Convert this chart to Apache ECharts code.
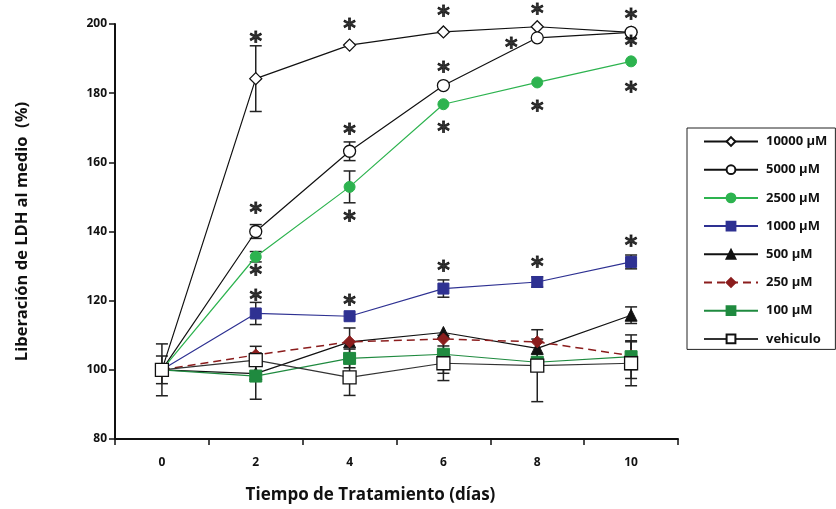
<!DOCTYPE html>
<html><head><meta charset="utf-8">
<script src="https://cdn.jsdelivr.net/npm/echarts@6/dist/echarts.min.js"></script>
<style>html,body{margin:0;padding:0;background:#fff}#c{width:836px;height:509px}</style>
</head><body><div id="c"></div>
<script>
var days = ['0','2','4','6','8','10'];
var yTicks = [80, 100, 120, 140, 160, 180, 200];
var names = ['10000 μM','5000 μM','2500 μM','1000 μM','500 μM','250 μM','100 μM','vehiculo'];
var v10000 = [100, 184.2, 193.9, 197.7, 199.2, 197.6];
var v5000  = [100, 140.0, 163.2, 182.2, 196.0, 197.6];
var v2500  = [100, 132.7, 152.9, 176.8, 183.1, 189.2];
var v1000  = [100, 116.3, 115.5, 123.5, 125.4, 131.2];
var v500   = [100, 98.9, 108.1, 110.8, 106.2, 115.8];
var v250   = [100, 104.3, 108.1, 108.9, 108.1, 104.1];
var v100   = [100, 98.2, 103.3, 104.5, 102.2, 103.8];
var vVeh   = [100, 102.8, 97.8, 101.9, 101.2, 101.9];
var e10000 = [0, 9.5, 0, 0, 0, 0];
var e5000  = [0, 2, 2.7, 0, 0, 0];
var e2500  = [0, 1.5, 4.6, 0, 0, 0];
var e1000  = [0, 3.2, 0, 2.5, 1.5, 2];
var e500   = [0, 0, 4, 0, 2.7, 2.4];
var e250   = [0, 0, 0, 0, 0, 4];
var e100   = [4, 6.7, 2.7, 5.5, 0, 6.3];
var eVeh   = [7.5, 4, 5.2, 5, 10.4, 6.5];
// significance asterisks: [day index, value]
var stars = [
  [1,196],[1,146.5],[1,128.6],[1,121.4],
  [2,199.7],[2,169.5],[2,144.2],[2,120],
  [3,203.5],[3,187.3],[3,170.1],[3,129.8],
  [4,204],[4,176.1],[4,130.9],
  [5,202.6],[5,194.8],[5,181.6],[5,137]
];
var starsShifted = [[4,194.2]];

var values = [v10000,v5000,v2500,v1000,v500,v250,v100,vVeh];
var errs = [e10000,e5000,e2500,e1000,e500,e250,e100,eVeh];
var styles = [
  {color:'#111', symbol:'diamond', size:12, fill:'#fff', type:'solid'},
  {color:'#111', symbol:'circle', size:12, fill:'#fff', type:'solid'},
  {color:'#2db34f', symbol:'circle', size:11, fill:'#2db34f', type:'solid'},
  {color:'#2e3192', symbol:'rect', size:11, fill:'#2e3192', type:'solid'},
  {color:'#111', symbol:'triangle', size:12, fill:'#111', type:'solid'},
  {color:'#8b1d1d', symbol:'diamond', size:12, fill:'#8b1d1d', type:'dashed'},
  {color:'#1f8a3f', symbol:'rect', size:12, fill:'#1f8a3f', type:'solid'},
  {color:'#333', symbol:'rect', size:13, fill:'#fff', type:'solid'}
];

var chart = echarts.init(document.getElementById('c'));
var series = [];
values.forEach(function(vals, i){
  var s = styles[i];
  series.push({
    type:'line', name:names[i], data: vals, z: 3 + i,
    symbol: s.symbol, symbolSize: s.size, showAllSymbol:true,
    lineStyle:{color:s.color, width: (s.type==='dashed'?1.5:1.2), type: s.type === 'dashed' ? [8,5] : 'solid'},
    itemStyle:{color:s.fill, borderColor: (s.fill==='#fff' ? '#111' : s.fill), borderWidth: (s.fill==='#fff'?1.3:1)},
    emphasis:{disabled:true}
  });
});
values.forEach(function(vals, i){
  var eb = [];
  vals.forEach(function(v, j){ if (errs[i][j] > 0) eb.push([j, v - errs[i][j], v + errs[i][j]]); });
  series.push({
    type:'custom', name: 'err' + i, data: eb, z: 2, silent:true,
    renderItem: function(params, api){
      var lo = api.coord([api.value(0), api.value(1)]);
      var hi = api.coord([api.value(0), api.value(2)]);
      var w = 6;
      var st = {stroke:'#222', lineWidth:1.5};
      return {type:'group', children:[
        {type:'line', shape:{x1:lo[0],y1:lo[1],x2:hi[0],y2:hi[1]}, style:st},
        {type:'line', shape:{x1:lo[0]-w,y1:lo[1],x2:lo[0]+w,y2:lo[1]}, style:st},
        {type:'line', shape:{x1:hi[0]-w,y1:hi[1],x2:hi[0]+w,y2:hi[1]}, style:st}
      ]};
    }
  });
});
var starLabel = {show:true, formatter:'*', position:'inside', fontSize:24, fontWeight:'bold', color:'#000', fontFamily:'DejaVu Sans', textBorderColor:'#000', textBorderWidth:0.8, offset:[0,5]};
series.push({type:'scatter', name:'stars', data: stars, symbolSize:1, itemStyle:{color:'rgba(0,0,0,0)'}, label: starLabel, clip:false, z:20, silent:true});
series.push({type:'scatter', name:'stars2', data: starsShifted, symbolSize:1, itemStyle:{color:'rgba(0,0,0,0)'}, label: Object.assign({}, starLabel, {offset:[-26,5]}), clip:false, z:20, silent:true});

chart.setOption({
  animation:false,
  textStyle:{fontFamily:'Open Sans'},
  grid:{left:115, right:158, top:24, bottom:68},
  legend:{
    data: names, orient:'vertical', left:687, top:128, width:130,
    itemWidth:54, itemHeight:11, itemGap:15.2,
    padding:[7, 8, 4, 16],
    borderColor:'#222', borderWidth:1,
    textStyle:{fontFamily:'Open Sans', fontWeight:'bold', fontSize:13, color:'#111', padding:[0,0,0,3]},
    selectedMode:false
  },
  xAxis:{
    type:'category', data: days, boundaryGap:true,
    name:'Tiempo de Tratamiento (días)', nameLocation:'middle', nameGap:48,
    nameTextStyle:{fontFamily:'Open Sans', fontWeight:'bold', fontSize:17, color:'#111', padding:[0,52,0,0]},
    axisLine:{lineStyle:{color:'#111', width:2}},
    axisTick:{show:true, alignWithLabel:false, length:6, lineStyle:{color:'#111', width:1.5}},
    axisLabel:{fontFamily:'Open Sans', fontWeight:'bold', fontSize:12, color:'#111', margin:18},
    splitLine:{show:false}
  },
  yAxis:{
    type:'value', min: yTicks[0], max: yTicks[yTicks.length-1], interval: 20,
    name:'Liberación de LDH al medio  (%)', nameLocation:'middle', nameGap:84,
    nameTextStyle:{fontFamily:'Open Sans', fontWeight:'bold', fontSize:16.5, color:'#111'},
    axisLine:{show:true, lineStyle:{color:'#111', width:2}},
    axisTick:{show:true, length:6, lineStyle:{color:'#111', width:1.5}},
    axisLabel:{fontFamily:'Open Sans', fontWeight:'bold', fontSize:12, color:'#111', margin:8},
    splitLine:{show:false}
  },
  series: series
});
</script></body></html>
